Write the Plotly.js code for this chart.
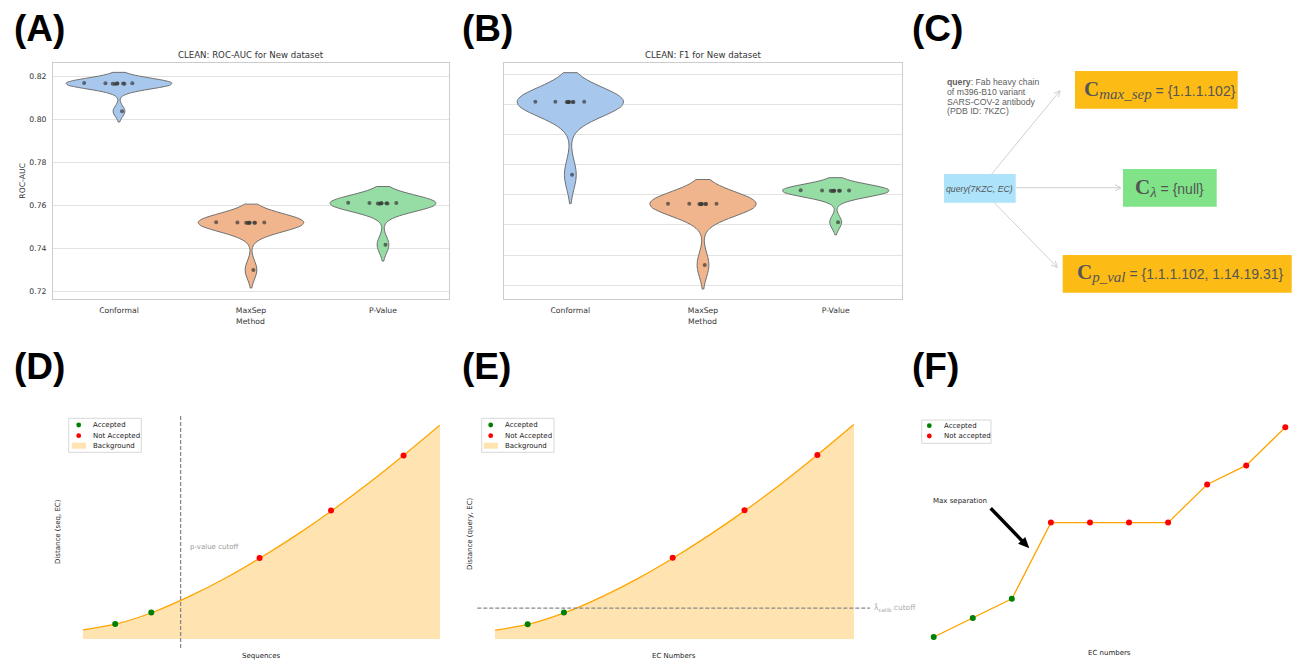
<!DOCTYPE html>
<html><head><meta charset="utf-8">
<script src="https://cdn.plot.ly/plotly-3.0.1.min.js"></script>
<style>html,body{margin:0;padding:0;background:#fff;}</style>
</head><body>
<div id="chart" style="width:1293px;height:660px"></div>
<script>
// ---------------- DATA ----------------
const methods = ['Conformal', 'MaxSep', 'P-Value'];
const rocAucConformal = [0.8163, 0.8164, 0.8164, 0.8165, 0.8165, 0.8165, 0.8166, 0.8166, 0.8167, 0.8036];
const rocAucMaxSep    = [0.7516, 0.7517, 0.7517, 0.7518, 0.7518, 0.7518, 0.7519, 0.7519, 0.7520, 0.7298];
const rocAucPValue    = [0.7606, 0.7607, 0.7607, 0.7608, 0.7608, 0.7608, 0.7609, 0.7609, 0.7610, 0.7415];
const f1Conformal = [0.5813, 0.5814, 0.5814, 0.5815, 0.5815, 0.5815, 0.5816, 0.5816, 0.5817, 0.5333];
const f1MaxSep    = [0.5137, 0.5138, 0.5138, 0.5139, 0.5139, 0.5139, 0.5140, 0.5140, 0.5141, 0.4735];
const f1PValue    = [0.5225, 0.5226, 0.5226, 0.5227, 0.5227, 0.5227, 0.5228, 0.5228, 0.5229, 0.5018];
const rocAucTicks = [0.72, 0.74, 0.76, 0.78, 0.80, 0.82];
const rocAucBandwidth = [0.0025, 0.0042, 0.0038];
const f1Bandwidth = [0.0096, 0.0080, 0.0042];

// schematic distance curve (panels D, E)
const curveX = [0, 1, 2, 3, 4, 5, 6, 7, 8, 9, 10];
const curveY = [1.4, 2.4, 4.2, 6.6, 9.4, 12.6, 16.1, 19.9, 24.0, 28.4, 33.0];
const acceptedX = [0.91, 1.92];
const acceptedY = [2.3, 4.1];
const rejectedX = [4.95, 6.95, 8.98];
const rejectedY = [12.5, 19.8, 28.3];
const pValueCutoff = 2.74;
const lambdaCutoff = 4.8;

// panel F: sorted distances to EC numbers
const ecIndex = [0, 1, 2, 3, 4, 5, 6, 7, 8, 9];
const ecDistance = [1, 1.5, 2, 4, 4, 4, 4, 5, 5.5, 6.5];
const ecAcceptedCount = 3;

// ---------------- HELPERS ----------------
const W = 1293, H = 660;
const px = x => x / W, py = y => 1 - y / H;
const MPL = 'DejaVu Sans';
const ARIAL = 'Liberation Sans';
const violinColors = ['#a7c7ed', '#f1b58d', '#95dca5'];

function violin(xa, ya, name, vals, bw, color) {
  return {
    type: 'violin', xaxis: xa, yaxis: ya, name: name,
    x: vals.map(() => name), y: vals,
    bandwidth: bw, width: 0.8, scalemode: 'width', spanmode: 'soft',
    fillcolor: color, line: {color: '#707070', width: 1},
    points: 'all', jitter: 0.9, pointpos: 0,
    marker: {color: 'rgba(55,55,55,0.7)', size: 4},
    box: {visible: false}, meanline: {visible: false},
    showlegend: false, hoverinfo: 'y'
  };
}

const traces = [];
const aucSets = [rocAucConformal, rocAucMaxSep, rocAucPValue];
const f1Sets = [f1Conformal, f1MaxSep, f1PValue];
methods.forEach((m, i) => traces.push(violin('x', 'y', m, aucSets[i], rocAucBandwidth[i], violinColors[i])));
methods.forEach((m, i) => traces.push(violin('x2', 'y2', m, f1Sets[i], f1Bandwidth[i], violinColors[i])));

function distancePanel(xa, ya) {
  traces.push({type: 'scatter', xaxis: xa, yaxis: ya, x: curveX, y: curveY, mode: 'lines',
    fill: 'tozeroy', fillcolor: 'rgba(255,165,0,0.3)', line: {width: 0, shape: 'spline'},
    showlegend: false, hoverinfo: 'skip', cliponaxis: false});
  traces.push({type: 'scatter', xaxis: xa, yaxis: ya, x: curveX, y: curveY, mode: 'lines',
    line: {color: '#ffa500', width: 1.3, shape: 'spline'}, showlegend: false, cliponaxis: false});
  traces.push({type: 'scatter', xaxis: xa, yaxis: ya, x: acceptedX, y: acceptedY, mode: 'markers',
    marker: {color: '#008000', size: 6}, name: 'Accepted', showlegend: false, cliponaxis: false});
  traces.push({type: 'scatter', xaxis: xa, yaxis: ya, x: rejectedX, y: rejectedY, mode: 'markers',
    marker: {color: '#ff0000', size: 6}, name: 'Not Accepted', showlegend: false, cliponaxis: false});
}
distancePanel('x3', 'y3');
distancePanel('x4', 'y4');

traces.push({type: 'scatter', xaxis: 'x5', yaxis: 'y5', x: ecIndex, y: ecDistance, mode: 'lines',
  line: {color: '#ffa500', width: 1.3}, showlegend: false, cliponaxis: false});
traces.push({type: 'scatter', xaxis: 'x5', yaxis: 'y5', x: ecIndex.slice(0, ecAcceptedCount), y: ecDistance.slice(0, ecAcceptedCount),
  mode: 'markers', marker: {color: '#008000', size: 6}, name: 'Accepted', showlegend: false, cliponaxis: false});
traces.push({type: 'scatter', xaxis: 'x5', yaxis: 'y5', x: ecIndex.slice(ecAcceptedCount), y: ecDistance.slice(ecAcceptedCount),
  mode: 'markers', marker: {color: '#ff0000', size: 6}, name: 'Not accepted', showlegend: false, cliponaxis: false});

// ---------------- LAYOUT ----------------
const tickFont = {family: MPL, size: 7.7, color: '#333'};
const frame = {showline: true, mirror: true, linecolor: '#cccccc', linewidth: 1, zeroline: false, fixedrange: true};
const bare = {showline: false, showgrid: false, zeroline: false, showticklabels: false, ticks: '', fixedrange: true};

const layout = {
  width: W, height: H, margin: {l: 0, r: 0, t: 0, b: 0},
  paper_bgcolor: '#fff', plot_bgcolor: 'rgba(0,0,0,0)', showlegend: false,
  violinmode: 'overlay',
  xaxis: Object.assign({domain: [px(53), px(449)], anchor: 'y', type: 'category', range: [-0.5, 2.5],
    showgrid: false, ticks: '', tickfont: tickFont, ticklabelstandoff: 4}, frame),
  yaxis: Object.assign({domain: [py(299), py(63)], anchor: 'x', range: [0.71628, 0.82605],
    tickvals: rocAucTicks, ticktext: rocAucTicks.map(v => v.toFixed(2)),
    showgrid: true, gridcolor: '#e3e3e3', gridwidth: 1, ticks: '', tickfont: tickFont, ticklabelstandoff: 4}, frame),
  xaxis2: Object.assign({domain: [px(504), px(902)], anchor: 'y2', type: 'category', range: [-0.5, 2.5],
    showgrid: false, ticks: '', tickfont: tickFont, ticklabelstandoff: 4}, frame),
  yaxis2: Object.assign({domain: [py(299), py(63)], anchor: 'x2', range: [0.4509, 0.6073],
    tick0: 0.46, dtick: 0.02, showticklabels: false,
    showgrid: true, gridcolor: '#e3e3e3', gridwidth: 1, ticks: ''}, frame),
  xaxis3: Object.assign({domain: [px(82.7), px(440)], anchor: 'y3', range: [0, 10]}, bare),
  yaxis3: Object.assign({domain: [py(639), py(425)], anchor: 'x3', range: [0, 33]}, bare),
  xaxis4: Object.assign({domain: [px(495), px(854)], anchor: 'y4', range: [0, 10]}, bare),
  yaxis4: Object.assign({domain: [py(639.3), py(424.3)], anchor: 'x4', range: [0, 33]}, bare),
  xaxis5: Object.assign({domain: [px(933.7), px(1285.3)], anchor: 'y5', range: [0, 9]}, bare),
  yaxis5: Object.assign({domain: [py(637), py(427.3)], anchor: 'x5', range: [1, 6.5]}, bare),
  shapes: [], annotations: []
};
const S = layout.shapes, A = layout.annotations;

function txt(x, y, text, opts) {
  A.push(Object.assign({xref: 'paper', yref: 'paper', x: px(x), y: py(y), text: text, showarrow: false,
    xanchor: 'center', yanchor: 'middle', font: {family: MPL, size: 7, color: '#222'}}, opts || {}));
}

// arrow drawn with shapes, coordinates in page pixels
function arrowPx(x0, y0, x1, y1, opt) {
  const dx = x1 - x0, dy = y1 - y0, len = Math.hypot(dx, dy);
  const ux = dx / len, uy = dy / len, nx = -uy, ny = ux;
  const bx = x1 - opt.head * ux, by = y1 - opt.head * uy;
  const p1 = [bx + opt.half * nx, by + opt.half * ny], p2 = [bx - opt.half * nx, by - opt.half * ny];
  const P = (x, y) => px(x).toFixed(5) + ',' + py(y).toFixed(5);
  const shaftEnd = opt.filled ? [bx + ux * 1, by + uy * 1] : [x1, y1];
  S.push({type: 'line', xref: 'paper', yref: 'paper', x0: px(x0), y0: py(y0), x1: px(shaftEnd[0]), y1: py(shaftEnd[1]),
    line: {color: opt.color, width: opt.width}});
  if (opt.filled) {
    S.push({type: 'path', xref: 'paper', yref: 'paper', path: 'M' + P(x1, y1) + 'L' + P(p1[0], p1[1]) + 'L' + P(p2[0], p2[1]) + 'Z',
      fillcolor: opt.color, line: {width: 0}});
  } else {
    S.push({type: 'path', xref: 'paper', yref: 'paper', path: 'M' + P(p1[0], p1[1]) + 'L' + P(x1, y1) + 'L' + P(p2[0], p2[1]),
      line: {color: opt.color, width: opt.width}});
  }
}

// panel letters
[['(A)', 12, 28], ['(B)', 460, 28], ['(C)', 910, 28], ['(D)', 12, 366], ['(E)', 460, 366], ['(F)', 910, 366]]
  .forEach(([t, x, y]) => txt(x, y, t, {xanchor: 'left', font: {family: ARIAL, size: 37, weight: 700, color: '#000'}}));

// A / B titles and labels
txt(251, 55, 'CLEAN: ROC-AUC for New dataset', {font: {family: MPL, size: 8.6, color: '#333'}});
txt(703, 55, 'CLEAN: F1 for New dataset', {font: {family: MPL, size: 8.6, color: '#333'}});
txt(251, 321, 'Method', {font: {family: MPL, size: 7.7, color: '#333'}});
txt(703, 321, 'Method', {font: {family: MPL, size: 7.7, color: '#333'}});
txt(22.7, 181, 'ROC-AUC', {textangle: -90, font: {family: MPL, size: 7.7, color: '#333'}});

// ---- Panel C diagram (page-pixel positions) ----
function rect(x0, y0, x1, y1, color) {
  S.push({type: 'rect', xref: 'paper', yref: 'paper', x0: px(x0), x1: px(x1), y0: py(y1), y1: py(y0), fillcolor: color, line: {width: 0}, layer: 'below'});
}
rect(944, 174, 1015.7, 202.7, '#ade3fb');
rect(1075, 71, 1237.7, 108.7, '#fdbc15');
rect(1123, 169, 1216.7, 206.7, '#80e388');
rect(1062.7, 255, 1291.7, 292.7, '#fdbc15');
const cArrow = {color: '#d0d0d0', width: 1, head: 6, half: 3, filled: false};
arrowPx(991.7, 174, 1060, 90.7, cArrow);
arrowPx(1016, 187.7, 1121, 187.7, cArrow);
arrowPx(994.3, 202.7, 1057.3, 267.3, cArrow);
const qFont = {family: ARIAL, size: 8.7, color: '#606060'};
['<b>query</b>: Fab heavy chain', 'of m396-B10 variant', 'SARS-COV-2 antibody', '(PDB ID: 7KZC)']
  .forEach((t, i) => txt(944.5, 82.3 + i * 9.7, t, {xanchor: 'left', font: qFont}));
txt(980, 188.5, '<i>query(7KZC, EC)</i>', {font: {family: ARIAL, size: 8.7, color: '#555'}});
const bigC = '<span style="font-family:\'Liberation Serif\';font-weight:bold;font-size:21px">C</span>';
function subS(s) { return '<span style="font-family:\'Liberation Serif\';font-style:italic;font-size:15px;baseline-shift:-3px">' + s + '</span>'; }
const setFont = {family: ARIAL, size: 14, color: '#555'};
txt(1160, 89, bigC + subS('max_sep') + ' = {1.1.1.102}', {font: setFont});
txt(1169, 187, bigC + subS('λ') + ' = {null}', {font: setFont});
txt(1180, 273, bigC + subS('p_val') + ' = {1.1.1.102, 1.14.19.31}', {font: setFont});

// ---- manual legends ----
function legendBox(x0, y0, x1, y1) {
  S.push({type: 'rect', xref: 'paper', yref: 'paper', x0: px(x0), x1: px(x1), y0: py(y0), y1: py(y1),
    fillcolor: 'rgba(255,255,255,0.8)', line: {color: '#d8d8d8', width: 1}});
}
function legendDot(x, y, color) {
  S.push({type: 'circle', xref: 'paper', yref: 'paper', x0: px(x - 2.4), x1: px(x + 2.4), y0: py(y + 2.4), y1: py(y - 2.4),
    fillcolor: color, line: {width: 0}});
}
function legendPatch(x0, x1, y) {
  S.push({type: 'rect', xref: 'paper', yref: 'paper', x0: px(x0), x1: px(x1), y0: py(y + 3), y1: py(y - 3),
    fillcolor: 'rgba(255,165,0,0.3)', line: {width: 0}});
}
function legend3(bx0, bx1, mx, tx) {
  legendBox(bx0, 418.3, bx1, 452.3);
  legendDot(mx, 425, '#008000'); txt(tx, 425, 'Accepted', {xanchor: 'left'});
  legendDot(mx, 435.7, '#ff0000'); txt(tx, 435.7, 'Not Accepted', {xanchor: 'left'});
  legendPatch(mx - 7, mx + 7.3, 445.7); txt(tx, 445.7, 'Background', {xanchor: 'left'});
}
legend3(68.7, 141.3, 78.7, 90.7);
legend3(481.7, 554, 490.7, 503.3);
legendBox(921.7, 420, 991, 443.3);
legendDot(929.3, 425.7, '#008000'); txt(941.7, 425.7, 'Accepted', {xanchor: 'left'});
legendDot(929.3, 436, '#ff0000'); txt(941.7, 436, 'Not accepted', {xanchor: 'left'});

// ---- panel D extras ----
S.push({type: 'line', xref: 'x3', yref: 'paper', x0: pValueCutoff, x1: pValueCutoff, y0: py(648), y1: py(415),
  line: {color: '#888', width: 1.3, dash: '4px,2px'}});
txt(187.7, 546.7, 'p-value cutoff', {xanchor: 'left', font: {family: MPL, size: 7, color: '#999'}});
txt(58, 532, 'Distance (seq, EC)', {textangle: -90});
txt(261.4, 655.7, 'Sequences');

// ---- panel E extras ----
S.push({type: 'line', xref: 'paper', yref: 'y4', x0: px(477.3), x1: px(870), y0: lambdaCutoff, y1: lambdaCutoff,
  line: {color: '#888', width: 1.3, dash: '4px,2px'}});
txt(872, 608, 'λ\u0302<span style="font-size:5.5px;baseline-shift:-2px">calib</span> cutoff', {xanchor: 'left', font: {family: MPL, size: 7.5, color: '#aaa'}});
txt(470, 534, 'Distance (query, EC)', {textangle: -90});
txt(674.3, 655.7, 'EC Numbers');

// ---- panel F extras ----
txt(960, 501, 'Max separation');
arrowPx(990.7, 508.3, 1029.3, 548.3, {color: '#000', width: 3.5, head: 11, half: 5, filled: true});
txt(1109.5, 653.3, 'EC numbers');

Plotly.newPlot('chart', traces, layout, {staticPlot: true, displayModeBar: false});
</script>
</body></html>
